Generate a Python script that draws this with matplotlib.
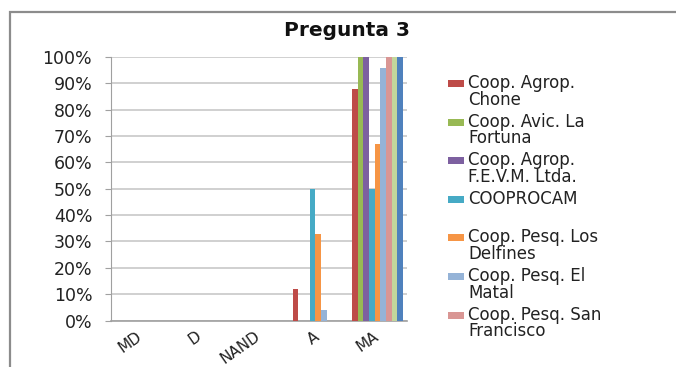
import numpy as np
import matplotlib.pyplot as plt
import matplotlib.transforms as mtransforms
from matplotlib.patches import Rectangle

plt.rcParams['font.family'] = ['DejaVu Sans']

categories = ['MD', 'D', 'NAND', 'A', 'MA']

# percentages per cooperative (9 series in the chart, 7 shown in the legend)
chone = [0, 0, 0, 12, 88]
fortuna = [0, 0, 0, 0, 100]
fevm = [0, 0, 0, 0, 100]
cooprocam = [0, 0, 0, 50, 50]
delfines = [0, 0, 0, 33, 67]
matal = [0, 0, 0, 4, 96]
san_francisco = [0, 0, 0, 0, 100]
serie_8 = [0, 0, 0, 0, 100]
serie_9 = [0, 0, 0, 0, 100]

series = [chone, fortuna, fevm, cooprocam, delfines, matal, san_francisco, serie_8, serie_9]
legend_labels = ['Coop. Agrop.\nChone', 'Coop. Avic. La\nFortuna', 'Coop. Agrop.\nF.E.V.M. Ltda.',
                 'COOPROCAM', 'Coop. Pesq. Los\nDelfines', 'Coop. Pesq. El\nMatal',
                 'Coop. Pesq. San\nFrancisco']
colors = ['#BE4B48', '#98B954', '#7D60A0', '#46AAC5', '#F69545', '#95B3D7', '#D99694',
          '#C3D69B', '#4F81BD']

W, H = 676, 367
fig = plt.figure(figsize=(W / 100, H / 100), dpi=100)

# chart area border (runs off the right and bottom of the picture)
fig.add_artist(Rectangle((10 / W, -0.1), 1.2, 1 - 12 / H + 0.1, transform=fig.transFigure,
                         fill=False, edgecolor='#8c8c8c', linewidth=1.6))

ax = fig.add_axes([111 / W, 1 - 320.5 / H, (407 - 111) / W, (320.5 - 57) / H])

x = np.arange(len(categories))
group = 0.86
bw = group / len(series)
for i, (vals, c) in enumerate(zip(series, colors)):
    ax.bar(x - group / 2 + bw * (i + 0.5), vals, width=bw, color=c, linewidth=0, zorder=3)

ax.set_xlim(-0.5, len(categories) - 0.5)
ax.set_ylim(0, 100)
ax.set_yticks(np.arange(0, 101, 10))
ax.set_yticklabels([f'{v}%' for v in range(0, 101, 10)], fontsize=12.5, color='#222222')
ax.set_xticks(x)
ax.set_xticklabels(categories, fontsize=11, rotation=35, ha='right',
                   rotation_mode='anchor', color='#222222')
ax.tick_params(axis='x', length=0, pad=6)
ax.tick_params(axis='y', length=4, color='#a0a0a0', pad=9.5)
# nudge the slanted labels a bit left
shift = mtransforms.ScaledTranslation(-5 / 100, 0, fig.dpi_scale_trans)
for lbl in ax.get_xticklabels():
    lbl.set_transform(lbl.get_transform() + shift)
ax.yaxis.grid(True, color='#c8c8c8', linewidth=1.2, zorder=0)
for s in ['top', 'right']:
    ax.spines[s].set_visible(False)
ax.spines['left'].set_color('#a0a0a0')
ax.spines['bottom'].set_color('#a0a0a0')
ax.spines['bottom'].set_linewidth(1.2)

fig.text(347 / W, 1 - 31 / H, 'Pregunta 3', ha='center', va='center',
         fontsize=14.5, fontweight='bold', color='#111111')

# legend drawn by hand: swatch sits next to the first line of each label
step = 38.6
for i, lab in enumerate(legend_labels):
    yc = 83.5 + i * step
    fig.add_artist(Rectangle((448 / W, 1 - (yc + 3.5) / H), 16 / W, 7 / H,
                             transform=fig.transFigure, facecolor=colors[i], edgecolor='none'))
    fig.text(468 / W, 1 - (yc - 9.5) / H, lab, ha='left', va='top', fontsize=12,
             linespacing=0.9, color='#222222')

plt.savefig('out.png', dpi=100)
